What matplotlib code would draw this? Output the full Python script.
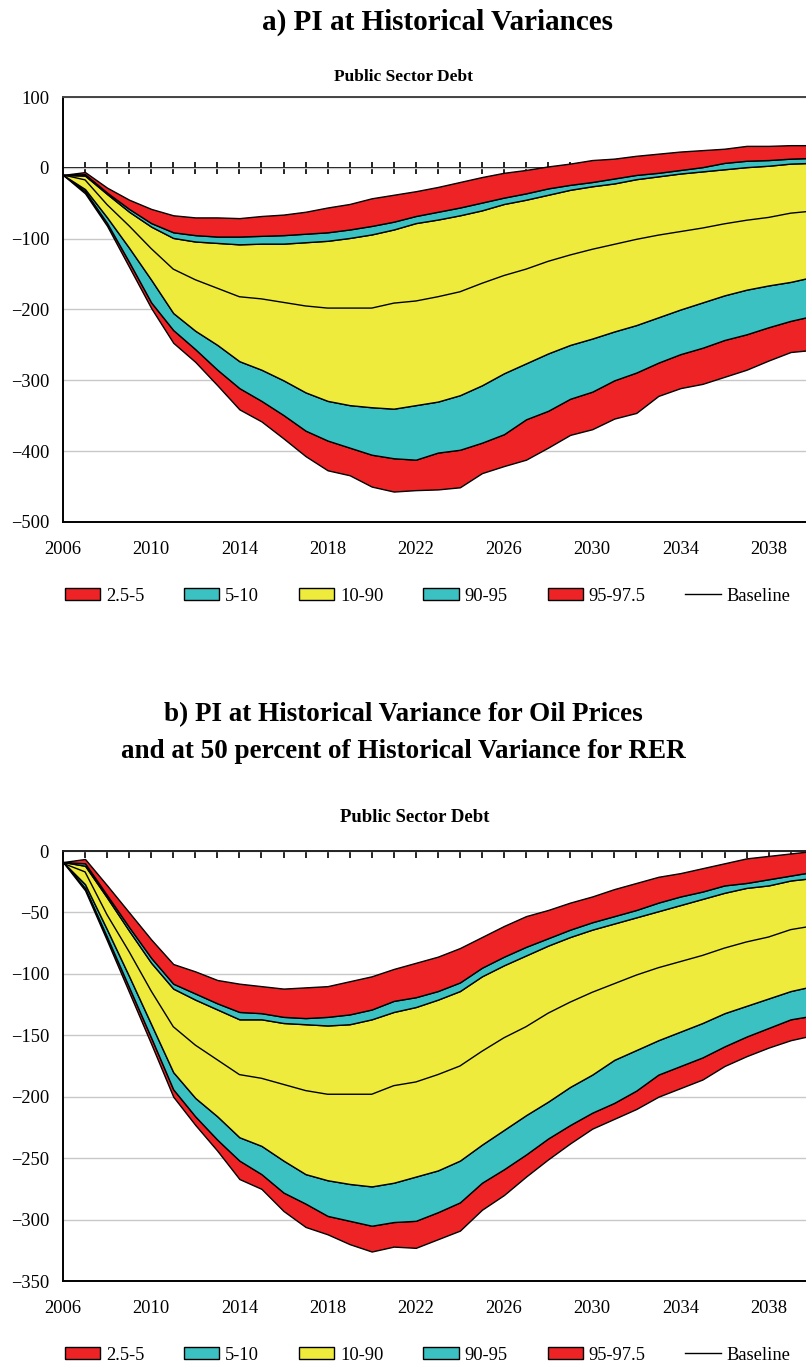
import numpy as np
import matplotlib
matplotlib.use('Agg')
import matplotlib.pyplot as plt
from matplotlib.patches import Patch
from matplotlib.lines import Line2D

plt.rcParams['font.family'] = ['Liberation Serif', 'DejaVu Serif']

years = np.arange(2006, 2041)

# panel a: historical variances (percentile bounds)
a_p975 = [-10, -6, -28, -45, -58, -67, -70, -70, -71, -68, -66, -62, -56, -51, -43, -38, -33, -27,
          -20, -13, -7, -3, 2, 6, 11, 13, 17, 20, 23, 25, 27, 31, 31, 32, 32]
a_p95 = [-10, -9, -35, -58, -78, -91, -95, -97, -97, -96, -95, -93, -91, -87, -82, -76, -68, -62,
         -56, -49, -42, -36, -29, -24, -20, -15, -10, -7, -3, 1, 7, 10, 11, 13, 14]
a_p90 = [-10, -11, -37, -62, -83, -99, -104, -106, -108, -107, -107, -105, -103, -99, -94, -87, -78,
         -73, -67, -60, -51, -45, -38, -31, -26, -22, -16, -12, -8, -5, -2, 1, 3, 6, 7]
a_p10 = [-10, -30, -70, -113, -158, -205, -230, -250, -273, -285, -300, -317, -329, -335, -338, -340,
         -335, -330, -321, -307, -290, -276, -262, -250, -241, -231, -222, -211, -200, -190, -180,
         -172, -166, -161, -154]
a_p5 = [-10, -33, -78, -133, -190, -229, -256, -285, -311, -329, -349, -371, -385, -395, -405, -410,
        -412, -402, -398, -388, -376, -355, -343, -326, -316, -300, -289, -275, -263, -254, -243,
        -235, -225, -216, -209]
a_p25 = [-10, -36, -82, -140, -198, -247, -274, -307, -341, -358, -382, -407, -427, -434, -450, -457,
         -455, -454, -451, -431, -421, -412, -395, -377, -369, -354, -346, -322, -311, -305, -295,
         -285, -272, -260, -257]

# panel b: oil at historical variance, RER at 50 percent
b_p975 = [-9, -6.5, -28, -50, -72, -92, -98, -105, -108, -110, -112, -111, -110, -106, -102, -96, -91,
          -86, -79, -70, -61, -53, -48, -42, -37, -31, -26, -21, -18, -14, -10, -6, -4, -2, 0]
b_p95 = [-9, -10, -36, -62, -87, -108, -116, -124, -131, -132, -135, -136, -135, -133, -129, -122,
         -119, -114, -107, -95, -86, -78, -71, -64, -58, -53, -48, -42, -37, -33, -28, -26, -23, -20, -17]
b_p90 = [-9, -12, -38, -65, -91, -112, -121, -129, -137, -137, -140, -141, -142, -141, -137, -131,
         -127, -121, -114, -102, -93, -85, -77, -70, -64, -59, -54, -49, -44, -39, -34, -30, -28, -24, -22]
b_p10 = [-9, -27, -64, -102, -141, -180, -201, -216, -233, -240, -252, -263, -268, -271, -273, -270,
         -265, -260, -252, -239, -227, -215, -204, -192, -182, -170, -162, -154, -147, -140, -132,
         -126, -120, -114, -110]
b_p5 = [-9, -30, -70, -111, -152, -194, -216, -235, -252, -263, -278, -287, -297, -301, -305, -302,
        -301, -294, -286, -270, -259, -247, -234, -223, -213, -205, -195, -182, -175, -168, -159,
        -151, -144, -137, -134]
b_p25 = [-9, -32, -73, -115, -157, -200, -223, -244, -267, -275, -293, -306, -312, -320, -326, -322,
         -323, -316, -309, -292, -280, -265, -251, -238, -226, -218, -210, -200, -193, -186, -175,
         -167, -160, -154, -150]

baseline = [-10, -17, -52, -82, -114, -143, -158, -170, -182, -185, -190, -195, -198, -198, -198, -191,
            -188, -182, -175, -163, -152, -143, -132, -123, -115, -108, -101, -95, -90, -85, -79,
            -74, -70, -64, -61]

band_labels = ['2.5-5', '5-10', '10-90', '90-95', '95-97.5']
RED = '#ED2326'
CYAN = '#3CC1C2'
YEL = '#EEEB3D'
band_colors = [RED, CYAN, YEL, CYAN, RED]

W, H = 806, 1364
fig = plt.figure(figsize=(W / 100, H / 100), dpi=100)

FS = 13.3


def fan(ax, bounds, ylim, yticks):
    for i in range(5):
        ax.fill_between(years, bounds[i], bounds[i + 1], facecolor=band_colors[i],
                        edgecolor='black', linewidth=1.0, zorder=2)
    ax.plot(years, baseline, color='black', lw=1.0, zorder=3)
    ax.set_xlim(2006, 2006 + (W - 63) / 22.05)
    ax.set_ylim(*ylim)
    ax.set_yticks(yticks)
    ax.set_xticks(np.arange(2006, 2040, 4))
    ax.tick_params(axis='both', length=0, labelsize=FS)
    ax.tick_params(axis='x', pad=14)
    ax.tick_params(axis='y', pad=10)
    ax.yaxis.grid(True, color='#c8c8c8', lw=1.0, zorder=0)
    ax.set_axisbelow(True)
    ax.spines['right'].set_visible(False)
    ax.spines['left'].set_linewidth(1.4)
    ax.spines['bottom'].set_linewidth(1.4)
    ax.spines['top'].set_linewidth(1.4)


def legend_at(ypix):
    handles = [Patch(facecolor=c, edgecolor='black', lw=1.0) for c in band_colors]
    handles.append(Line2D([], [], color='black', lw=1.0))
    fig.legend(handles, band_labels + ['Baseline'], ncol=6, loc='center left',
               bbox_to_anchor=(65 / W, 1 - ypix / H), frameon=False, fontsize=FS,
               handlelength=1.9, handleheight=0.6, handletextpad=0.32,
               columnspacing=2.16, borderpad=0, borderaxespad=0)


# ---- panel a
ax1 = fig.add_axes([63 / W, 1 - 522 / H, (W - 63) / W, 425 / H])
fan(ax1, [a_p25, a_p5, a_p10, a_p90, a_p95, a_p975], (-500, 100), np.arange(-500, 101, 100))
ax1.spines['top'].set_color('#444444')
zero = ax1.secondary_xaxis(5 / 6)
zero.set_xticks(np.arange(2007, 2040))
zero.tick_params(direction='inout', length=8, width=1.2, labelbottom=False, labeltop=False)
zero.spines['bottom'].set_linewidth(1.4)
zero.spines['top'].set_linewidth(1.4)

fig.text(438 / W, 1 - 22 / H, 'a) PI at Historical Variances', ha='center', va='center',
         fontsize=21, fontweight='bold')
fig.text(403 / W, 1 - 77 / H, 'Public Sector Debt', ha='center', va='center',
         fontsize=12.5, fontweight='bold')
legend_at(596)

# ---- panel b
ax2 = fig.add_axes([63 / W, 1 - 1281 / H, (W - 63) / W, 430 / H])
fan(ax2, [b_p25, b_p5, b_p10, b_p90, b_p95, b_p975], (-350, 0), np.arange(-350, 1, 50))
ax2.spines['top'].set_color('#222222')
topax = ax2.secondary_xaxis('top')
topax.set_xticks(np.arange(2007, 2040))
topax.tick_params(direction='in', length=5, width=1.2, labeltop=False)
topax.spines['top'].set_visible(False)

fig.text(403 / W, 1 - 715 / H, 'b) PI at Historical Variance for Oil Prices', ha='center',
         va='center', fontsize=19.5, fontweight='bold')
fig.text(403 / W, 1 - 752 / H, 'and at 50 percent of Historical Variance for RER', ha='center',
         va='center', fontsize=19.5, fontweight='bold')
fig.text(415 / W, 1 - 818 / H, 'Public Sector Debt', ha='center', va='center',
         fontsize=13.5, fontweight='bold')
legend_at(1355)

fig.savefig('out.png', dpi=100)
